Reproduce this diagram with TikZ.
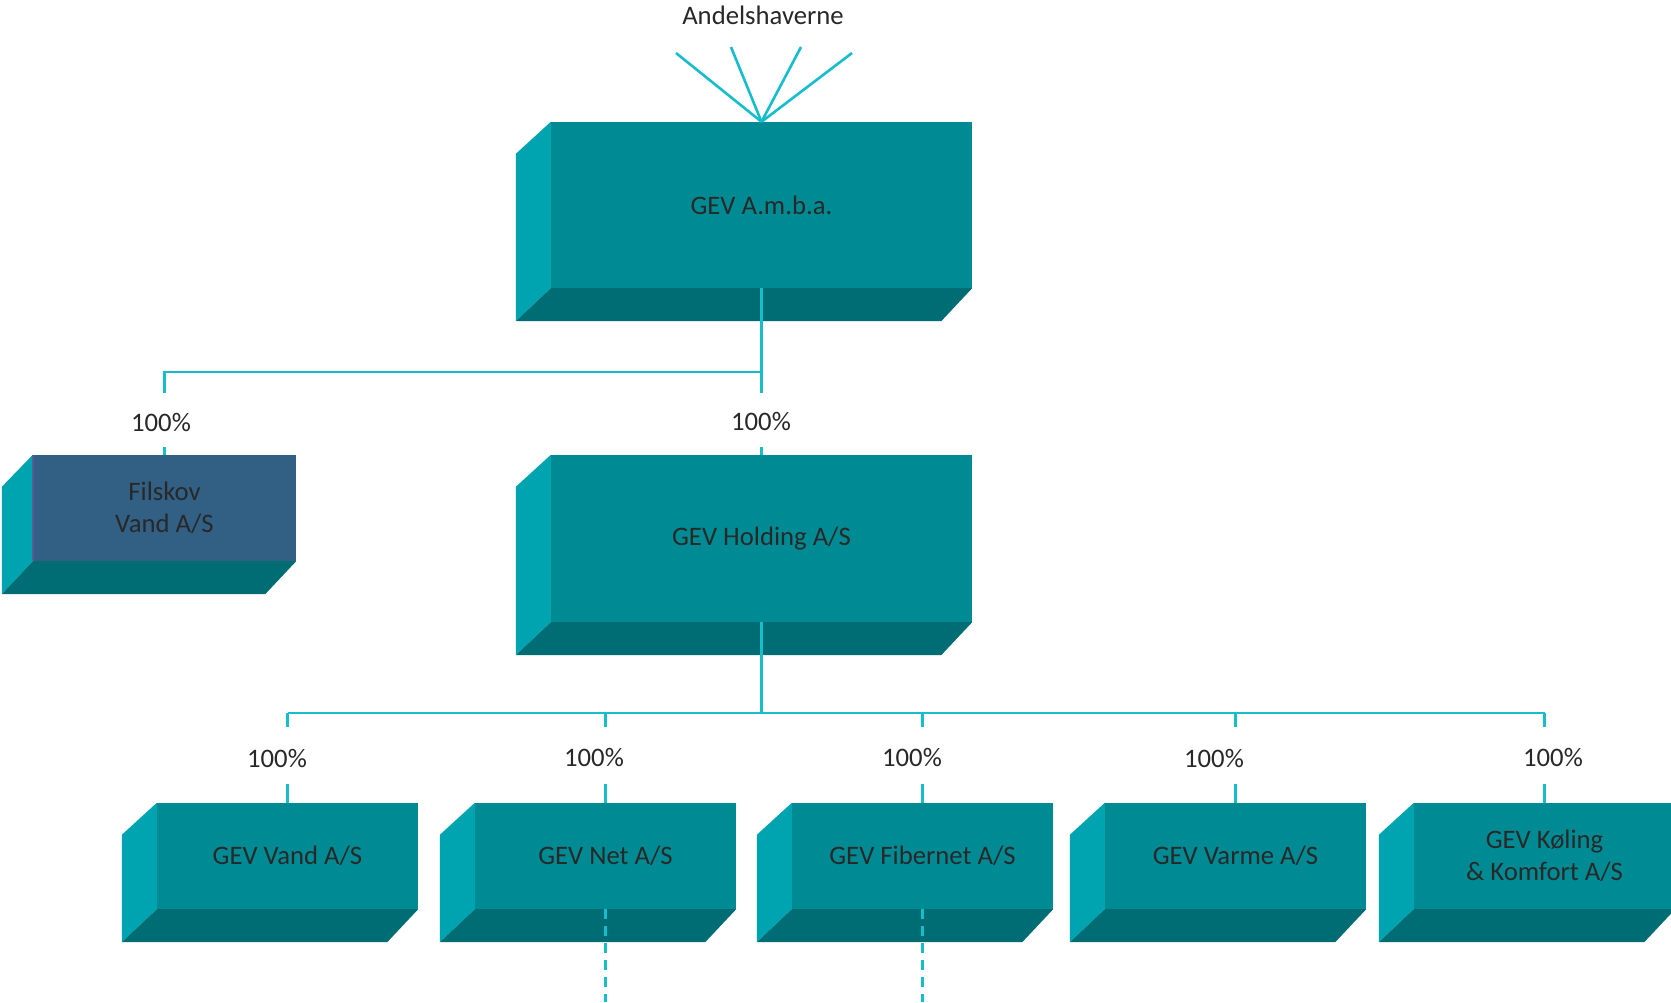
\documentclass[tikz,border=0pt]{standalone}
\usepackage{fontspec}
\setmainfont{Carlito}
\usetikzlibrary{calc}
\definecolor{frontc}{RGB}{0,139,148}
\definecolor{leftc}{RGB}{0,164,177}
\definecolor{botc}{RGB}{0,108,116}
\definecolor{filc}{RGB}{50,96,132}
\definecolor{filedge}{RGB}{88,92,150}
\definecolor{linec}{RGB}{22,189,204}
\definecolor{txtc}{RGB}{40,40,40}
\tikzset{
  every node/.style={font=\fontsize{26.7}{31.5}\selectfont, text=txtc},
  frontbox/.style={rectangle, fill=frontc, inner sep=0pt, align=center},
  filbox/.style={frontbox, fill=filc},
  smallbox/.style={frontbox, minimum width=261pt, minimum height=106pt},
  bigbox/.style={frontbox, minimum width=421pt, minimum height=166pt},
  leftface/.style={fill=leftc},
  botface/.style={fill=botc},
  conn/.style={draw=linec, line width=2.6pt},
  dashconn/.style={conn, dash pattern=on 10pt off 7pt},
  pct/.style={inner sep=0pt},
}
\newcommand\gevfaces[2][35]{%
  \fill[leftface] (#2.north west) -- ++(-#1,32) -- ([shift={(-#1,33)}]#2.south west) -- (#2.south west) -- cycle;
  \fill[botface] (#2.south west) -- (#2.south east) -- ([shift={(-31,33)}]#2.south east) -- ([shift={(-#1,33)}]#2.south west) -- cycle;
}
\begin{document}
\begin{tikzpicture}[x=1pt,y=-1pt]
\useasboundingbox (0,0) rectangle (1671,1002);
\clip (0,0) rectangle (1671,1002);
\fill[white] (0,0) rectangle (1671,1002);

% boxes
\node[bigbox] (amba) at (761.5,205) {GEV A.m.b.a.};
\node[bigbox, minimum height=167pt] (hold) at (761.5,538.5) {GEV Holding A/S};
\node[filbox, minimum width=263pt, minimum height=106pt] (fil) at (164.5,508) {Filskov\\Vand A/S};
\node[smallbox] (vand) at (287.5,856) {GEV Vand A/S};
\node[smallbox] (net) at (605.5,856) {GEV Net A/S};
\node[smallbox] (fib) at (922.5,856) {GEV Fibernet A/S};
\node[smallbox] (varme) at (1235.5,856) {GEV Varme A/S};
\node[smallbox] (kol) at (1544.5,856) {GEV Køling\\\& Komfort A/S};

\gevfaces{amba}
\gevfaces{hold}
\gevfaces[31]{fil}
\gevfaces{vand}
\gevfaces{net}
\gevfaces{fib}
\gevfaces{varme}
\gevfaces{kol}
\draw[filedge, line width=1.5pt] (fil.north west) -- (fil.south west);

% labels
\node (andel) at (763,15) {Andelshaverne};
\node[pct] (pF) at (161,422) {100\%};
\node[pct] (pH) at (761,421) {100\%};
\node[pct] (pV) at (277,758) {100\%};
\node[pct] (pN) at (594,757) {100\%};
\node[pct] (pFb) at (912,757) {100\%};
\node[pct] (pVa) at (1214,758) {100\%};
\node[pct] (pK) at (1553,757) {100\%};

% owners
\coordinate (a1) at (676,53);
\coordinate (a2) at (731,47);
\coordinate (a3) at (801,47);
\coordinate (a4) at (852,53);
\foreach \a in {a1,a2,a3,a4} \draw[conn] (\a) -- (amba.north);

% top level connectors
\coordinate (j1) at (761.5,372);
\coordinate (j1l) at (164.5,372);
\coordinate (tF) at (164.5,393);
\coordinate (tH) at (761.5,393);
\coordinate (uF) at (164.5,447);
\coordinate (uH) at (761.5,447);
\draw[conn] (amba.south) -- (j1) -- (tH);
\draw[conn] (j1) -- (j1l) -- (tF);
\draw[conn] (uF) -- (fil.north);
\draw[conn] (uH) -- (hold.north);

% second level connectors
\coordinate (j2) at (761.5,713);
\coordinate (j2l) at (287.5,713);
\coordinate (j2r) at (1544.5,713);
\draw[conn] (hold.south) -- (j2);
\draw[conn] (j2l) -- (j2r);
\foreach \n/\x in {vand/287.5,net/605.5,fib/922.5,varme/1235.5,kol/1544.5} {
  \draw[conn] (\x,713) -- (\x,727);
  \draw[conn] (\x,784) -- (\n.north);
}

% dashed continuations
\coordinate (netend) at (605.5,1002);
\coordinate (fibend) at (922.5,1002);
\draw[dashconn] (net.south) -- (netend);
\draw[dashconn] (fib.south) -- (fibend);
\end{tikzpicture}
\end{document}
